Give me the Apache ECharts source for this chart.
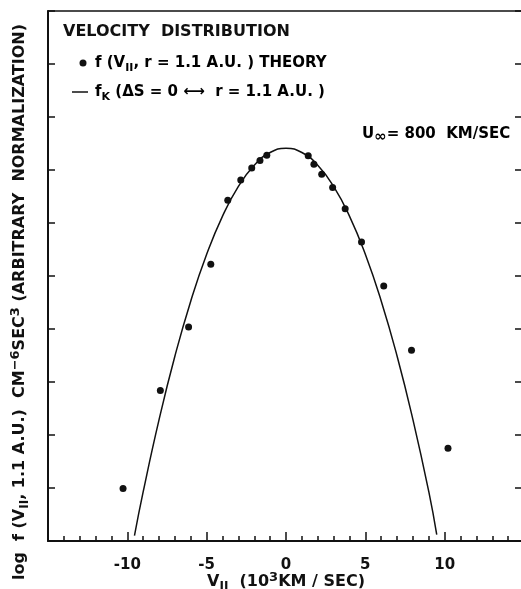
<!DOCTYPE html>
<html>
<head>
<meta charset="utf-8">
<script src="https://cdn.jsdelivr.net/npm/echarts@6/dist/echarts.min.js"></script>
<style>
    html, body {margin: 0; padding: 0; background: #fff;}
    #main {width: 521px; height: 589px;}
</style>
</head>
<body>
<div id="main"></div>
<script>
// theory points: V parallel (10^3 km/s) and log f
var theoryV = [-10.27, -7.92, -6.14, -4.74, -3.67, -2.85, -2.16, -1.64, -1.21,
    1.40, 1.76, 2.25, 2.94, 3.73, 4.76, 6.16, 7.91, 10.21];
var theoryF = [0.99, 2.84, 4.04, 5.22, 6.43, 6.81, 7.04, 7.18, 7.28,
    7.27, 7.11, 6.92, 6.67, 6.27, 5.64, 4.81, 3.60, 1.75];
// f_K curve
var curveV = [-9.55, -9, -8, -7, -6, -5, -4, -3, -2, -1, 0, 1, 2, 3, 4, 5, 6, 7, 8, 9, 9.5];
var curveF = [0.1, 0.93, 2.29, 3.49, 4.53, 5.41, 6.13, 6.69, 7.09, 7.33, 7.41,
    7.33, 7.09, 6.69, 6.13, 5.41, 4.53, 3.49, 2.29, 0.93, 0.12];
var xTickLabels = [-10, -5, 0, 5, 10];

var ink = '#111';
var font = 'DejaVu Sans';

var points = [];
for (var i = 0; i < theoryV.length; i++) {
    points.push([theoryV[i], theoryF[i]]);
}
var curve = [];
for (var j = 0; j < curveV.length; j++) {
    curve.push([curveV[j], curveF[j]]);
}

// sub/superscript styles, size = main font size
function makeRich(size) {
    return {
        t: {fontSize: size, fontWeight: 'bold', fontFamily: font, color: ink, lineHeight: 22},
        sub: {fontSize: size - 4, fontWeight: 'bold', fontFamily: font, color: ink, lineHeight: size - 4, verticalAlign: 'bottom'},
        sup: {fontSize: size - 3, fontWeight: 'bold', fontFamily: font, color: ink, lineHeight: size - 3, verticalAlign: 'top'},
        inf: {fontSize: size, fontWeight: 'bold', fontFamily: font, color: ink, lineHeight: size - 2, verticalAlign: 'bottom'}
    };
}
var richBig = makeRich(16);
var richMid = makeRich(15);

var myChart = echarts.init(document.getElementById('main'));
myChart.setOption({
    animation: false,
    backgroundColor: '#fff',
    grid: {left: 48, top: 11, width: 476, height: 530, outerBoundsMode: 'none'},
    xAxis: [{
        type: 'value',
        min: -15,
        max: 15,
        interval: 5,
        axisLine: {onZero: false, lineStyle: {color: ink, width: 2}},
        axisTick: {inside: true, length: 9, lineStyle: {color: ink, width: 1.5}},
        minorTick: {show: true, splitNumber: 5, length: 5, lineStyle: {color: ink, width: 1.5}},
        splitLine: {show: false},
        axisLabel: {
            margin: 17,
            fontSize: 15,
            fontWeight: 'bold',
            fontFamily: font,
            color: ink,
            formatter: function (v) {
                return xTickLabels.indexOf(v) >= 0 ? String(v) : '';
            }
        },
        name: '{t|V}{sub|II}{t|  (10}{sup|3}{t|KM / SEC)}',
        nameLocation: 'middle',
        nameGap: 30,
        nameMoveOverlap: false,
        nameTextStyle: {rich: richBig}
    }, {
        type: 'value',
        position: 'top',
        min: -15,
        max: 15,
        axisLine: {onZero: false, lineStyle: {color: ink, width: 1.5}},
        axisTick: {show: false},
        axisLabel: {show: false},
        splitLine: {show: false}
    }],
    yAxis: [{
        type: 'value',
        min: 0,
        max: 10,
        interval: 1,
        axisLine: {show: true, onZero: false, lineStyle: {color: ink, width: 2}},
        axisTick: {show: true, inside: true, length: 7, lineStyle: {color: ink, width: 1.5}},
        axisLabel: {show: false},
        splitLine: {show: false},
        name: '{t|log  f (V}{sub|II}{t|, 1.1 A.U.)  CM}{sup|\u22126}{t|SEC}{sup|3}{t| (ARBITRARY  NORMALIZATION)}',
        nameLocation: 'middle',
        nameGap: 17,
        nameMoveOverlap: false,
        nameTextStyle: {rich: richBig, padding: [0, 52, 0, 0]}
    }, {
        type: 'value',
        position: 'right',
        min: 0,
        max: 10,
        interval: 1,
        axisLine: {show: true, onZero: false, lineStyle: {color: ink, width: 2}},
        axisTick: {show: true, inside: true, length: 9, lineStyle: {color: ink, width: 1.5}},
        axisLabel: {show: false},
        splitLine: {show: false}
    }],
    series: [{
        name: 'theory',
        type: 'scatter',
        data: points,
        symbol: 'circle',
        symbolSize: 7,
        itemStyle: {color: ink, opacity: 1}
    }, {
        name: 'fK',
        type: 'line',
        data: curve,
        smooth: 0.5,
        showSymbol: false,
        lineStyle: {color: ink, width: 1.5}
    }],
    graphic: [{
        type: 'text',
        left: 63,
        top: 24,
        style: {text: 'VELOCITY  DISTRIBUTION', font: 'bold 16px "' + font + '"', fill: ink}
    }, {
        type: 'circle',
        shape: {cx: 83, cy: 63, r: 3.5},
        style: {fill: ink}
    }, {
        type: 'text',
        x: 95,
        y: 63,
        style: {
            text: '{t|f (V}{sub|II}{t|, r = 1.1 A.U. ) THEORY}',
            rich: richMid,
            verticalAlign: 'middle'
        }
    }, {
        type: 'line',
        shape: {x1: 72, y1: 92, x2: 88, y2: 92},
        style: {stroke: ink, lineWidth: 1.5}
    }, {
        type: 'text',
        x: 95,
        y: 92,
        style: {
            text: '{t|f}{sub|K}{t| (\u0394S = 0 \u27f7  r = 1.1 A.U. )}',
            rich: richMid,
            verticalAlign: 'middle'
        }
    }, {
        type: 'text',
        x: 362,
        y: 134,
        style: {
            text: '{t|U}{inf|\u221e}{t|= 800  KM/SEC}',
            rich: richMid,
            verticalAlign: 'middle'
        }
    }]
});
</script>
</body>
</html>
